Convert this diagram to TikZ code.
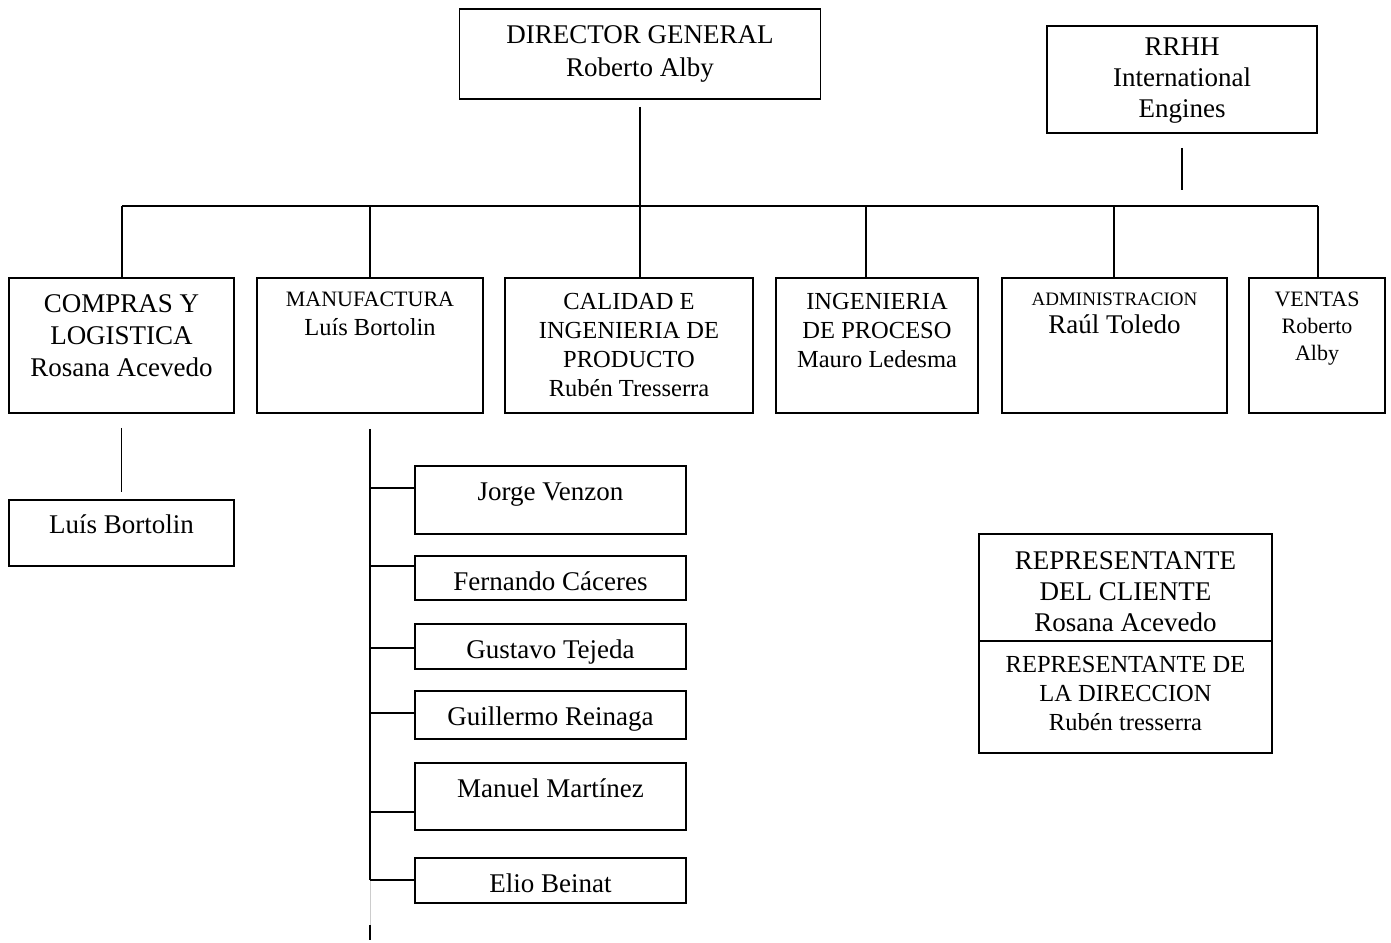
\documentclass[tikz,border=0pt]{standalone}
\usepackage{fontspec}
\setmainfont{Liberation Serif}
\usetikzlibrary{positioning, calc}

\newcommand{\szbig}{\fontsize{27}{32}\selectfont}
\newcommand{\szmid}{\fontsize{24.5}{29}\selectfont}
\newcommand{\szsmall}{\fontsize{22}{27}\selectfont}
\newcommand{\sztiny}{\fontsize{19}{28}\selectfont}

\begin{document}
\begin{tikzpicture}[x=1pt, y=-1pt,
		box/.style={draw, line width=1.8pt, inner sep=0pt},
		txt/.style={inner sep=0pt, align=center},
		conn/.style={line width=1.8pt}]
			
			\useasboundingbox (0,0) rectangle (1391,942);
			
			% Top boxes
			\node[box, minimum width=361pt, minimum height=90pt] (dir) at (640,54) {};
			\node[txt, font={\fontsize{27}{33}\selectfont}, below=17pt of dir.north] {DIRECTOR GENERAL\\Roberto Alby};
			\node[box, minimum width=270pt, minimum height=107pt] (rrhh) at (1182,79.5) {};
			\node[txt, font={\fontsize{27}{31}\selectfont}, below=13pt of rrhh.north] {RRHH\\International\\Engines};
			
			% Second level
			\node[box, minimum width=225pt, minimum height=135pt] (compras) at (121.5,345.5) {};
			\node[txt, font=\szbig, below=17pt of compras.north] {COMPRAS Y\\LOGISTICA\\Rosana Acevedo};
			\node[box, minimum width=226pt, minimum height=135pt] (manuf) at (370,345.5) {};
			\node[txt, font={\fontsize{24.5}{29}\selectfont}, below=15pt of manuf.north] {{\szsmall MANUFACTURA}\\Luís Bortolin};
			\node[box, minimum width=248pt, minimum height=135pt] (calidad) at (629,345.5) {};
			\node[txt, font=\szmid, below=16pt of calidad.north] {CALIDAD E\\INGENIERIA DE\\PRODUCTO\\Rubén Tresserra};
			\node[box, minimum width=202pt, minimum height=135pt] (ingproc) at (877,345.5) {};
			\node[txt, font=\szmid, below=16pt of ingproc.north] {INGENIERIA\\DE PROCESO\\Mauro Ledesma};
			\node[box, minimum width=225pt, minimum height=135pt] (admin) at (1114.5,345.5) {};
			\node[txt, font={\fontsize{27}{28}\selectfont}, below=16pt of admin.north] {{\sztiny ADMINISTRACION}\\Raúl Toledo};
			\node[box, minimum width=136pt, minimum height=135pt] (ventas) at (1317,345.5) {};
			\node[txt, font=\szsmall, below=15pt of ventas.north] {VENTAS\\Roberto\\Alby};
			
			% Bus
			\coordinate (busL) at (122,206);
			\coordinate (busR) at (1318,206);
			\draw[conn] (busL) -- (busR);
			\draw[conn, shorten <=7pt] (dir.south) -- (dir.south |- busL);
			\draw[conn, shorten <=14pt, shorten >=16pt] (rrhh.south) -- (rrhh.south |- busR);
			\foreach \b/\x in {compras/122, manuf/370, calidad/640, ingproc/866, admin/1114, ventas/1318}
				\draw[conn] (\x,206) -- (\b.north -| \x,0);
			
			% Compras child
			\node[box, minimum width=225pt, minimum height=66pt] (bortolin) at (121.5,533) {};
			\node[txt, font=\szbig, anchor=base] at ([yshift=-34pt]bortolin.north) {Luís Bortolin};
			\draw[conn, shorten <=14pt, shorten >=7pt] (compras.south) -- (bortolin.north);
			
			% Manufactura children
			\node[box, minimum width=271pt, minimum height=68pt] (jorge) at (550.5,500) {};
			\node[box, minimum width=271pt, minimum height=44pt] (fernando) at (550.5,578) {};
			\node[box, minimum width=271pt, minimum height=45pt] (gustavo) at (550.5,646.5) {};
			\node[box, minimum width=271pt, minimum height=48pt] (guillermo) at (550.5,715) {};
			\node[box, minimum width=271pt, minimum height=67pt] (manuel) at (550.5,796.5) {};
			\node[box, minimum width=271pt, minimum height=45pt] (elio) at (550.5,880.5) {};
			\foreach \n/\t in {jorge/Jorge Venzon, fernando/Fernando Cáceres, gustavo/Gustavo Tejeda,
				guillermo/Guillermo Reinaga, manuel/Manuel Martínez, elio/Elio Beinat}
				\node[txt, font=\szbig, anchor=base] at ([yshift=-35pt]\n.north) {\t};
			
			\coordinate (tgap) at (370,880);
			\coordinate (tgap2) at (370,925);
			\coordinate (trunk) at (370,940);
			\draw[conn, shorten <=15pt] (manuf.south) -- (tgap);
			\draw[line width=0.8pt, black!20] (tgap) -- (tgap2);
			\draw[conn] (tgap2) -- (trunk);
			\foreach \n/\y in {jorge/488, fernando/566, gustavo/648, guillermo/713, manuel/812, elio/880}
				\draw[conn] (trunk |- 0,\y) -- (\n.west |- 0,\y);
			
			% Representantes
			\node[box, minimum width=293pt, minimum height=107pt] (repcli) at (1125.5,587.5) {};
			\node[txt, font={\fontsize{27}{31}\selectfont}, below=18pt of repcli.north] {REPRESENTANTE\\DEL CLIENTE\\Rosana Acevedo};
			\node[box, minimum width=293pt, minimum height=112pt] (repdir) at (1125.5,697) {};
			\node[txt, font={\fontsize{24.5}{29}\selectfont}, below=16pt of repdir.north] {REPRESENTANTE DE\\LA DIRECCION\\Rubén tresserra};
			
		\end{tikzpicture}
\end{document}
